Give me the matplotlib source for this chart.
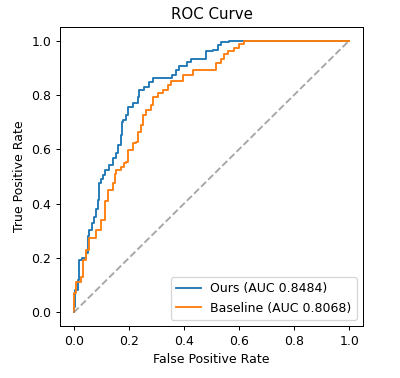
import matplotlib
matplotlib.use("Agg")
import matplotlib.pyplot as plt

# ROC points (fpr, tpr), jump positions of the staircase
ours_fpr = [0.0, 0.0, 0.004, 0.015, 0.018, 0.03, 0.044, 0.05, 0.055, 0.065, 0.073, 0.08,
            0.087, 0.09, 0.1, 0.105, 0.113, 0.127, 0.142, 0.153, 0.16, 0.171, 0.175,
            0.178, 0.189, 0.196, 0.215, 0.233, 0.236, 0.255, 0.273, 0.287, 0.356, 0.371,
            0.382, 0.41, 0.425, 0.48, 0.505, 0.524, 0.535, 0.564, 1.0]
ours_tpr = [0.0, 0.02, 0.084, 0.121, 0.194, 0.2, 0.22, 0.28, 0.304, 0.33, 0.352, 0.38,
            0.414, 0.476, 0.49, 0.505, 0.524, 0.542, 0.568, 0.586, 0.615, 0.652, 0.7,
            0.707, 0.725, 0.755, 0.77, 0.791, 0.817, 0.828, 0.846, 0.864, 0.872, 0.89,
            0.905, 0.92, 0.934, 0.96, 0.967, 0.982, 0.993, 1.0, 1.0]

base_fpr = [0.0, 0.0, 0.007, 0.025, 0.033, 0.044, 0.055, 0.08, 0.098, 0.113, 0.115, 0.124,
            0.142, 0.15, 0.153, 0.171, 0.182, 0.189, 0.196, 0.215, 0.225, 0.233, 0.244,
            0.251, 0.262, 0.28, 0.287, 0.305, 0.324, 0.342, 0.353, 0.396, 0.433, 0.516,
            0.535, 0.545, 0.56, 0.582, 0.6, 0.618, 1.0]
base_tpr = [0.0, 0.073, 0.11, 0.132, 0.194, 0.231, 0.275, 0.304, 0.341, 0.37, 0.41, 0.45,
            0.476, 0.51, 0.524, 0.535, 0.549, 0.553, 0.597, 0.623, 0.626, 0.663, 0.689,
            0.725, 0.744, 0.762, 0.791, 0.806, 0.817, 0.835, 0.853, 0.872, 0.89, 0.916,
            0.934, 0.952, 0.963, 0.974, 0.989, 1.0, 1.0]

ours_auc = 0.8484
base_auc = 0.8068

fig, ax = plt.subplots(figsize=(400 / 90, 378 / 90), dpi=90)
fig.subplots_adjust(left=0.15, right=0.9075, bottom=0.1376, top=0.9286)

ax.plot(ours_fpr, ours_tpr, drawstyle='steps-post', color='tab:blue', label=f'Ours (AUC {ours_auc:.4f})')
ax.plot(base_fpr, base_tpr, drawstyle='steps-post', color='tab:orange', label=f'Baseline (AUC {base_auc:.4f})')
ax.plot([0, 1], [0, 1], linestyle='--', color='gray', alpha=0.7)

ax.set_title('ROC Curve')
ax.set_xlabel('False Positive Rate')
ax.set_ylabel('True Positive Rate')
ax.legend(loc='lower right')

plt.savefig("out.png", dpi=90)
